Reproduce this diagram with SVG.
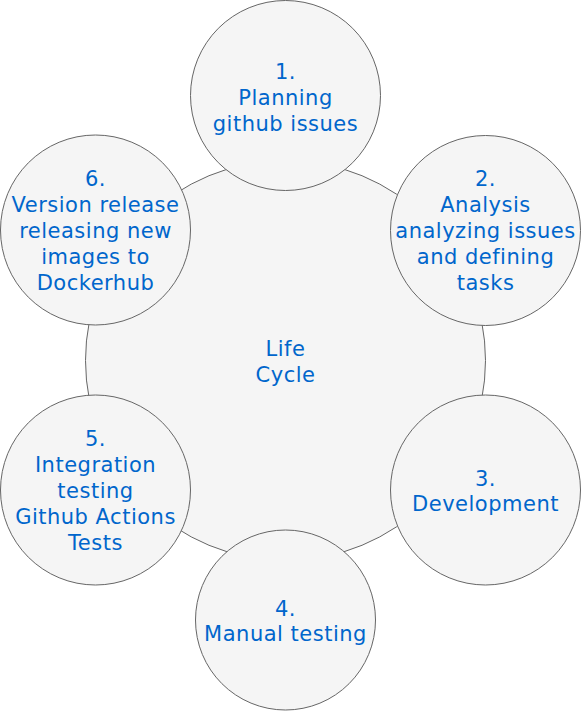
<svg xmlns="http://www.w3.org/2000/svg" width="581" height="711" viewBox="0 0 581 711">
<style>
.c{fill:#f5f5f5;stroke:#666666;stroke-width:1}
.t{font-family:"DejaVu Sans","Verdana",sans-serif;font-size:21px;letter-spacing:0.5px;fill:#0066cc;text-anchor:middle}
</style>
<rect width="581" height="711" fill="#ffffff"/>
<g id="lifecycle">
<circle class="c" cx="285.5" cy="360.5" r="200"/>
<text class="t"><tspan x="285.5" y="356">Life</tspan><tspan x="285.5" y="382">Cycle</tspan></text>
</g>
<g id="connectors"></g>
<g id="step1">
<circle class="c" cx="285.5" cy="95.5" r="95"/>
<text class="t"><tspan x="285.5" y="79">1.</tspan><tspan x="285.5" y="105">Planning</tspan><tspan x="285.5" y="131">github issues</tspan></text>
</g>
<g id="step2">
<circle class="c" cx="485.5" cy="230.5" r="95"/>
<text class="t"><tspan x="485.5" y="186">2.</tspan><tspan x="485.5" y="212">Analysis</tspan><tspan x="485.5" y="238">analyzing issues</tspan><tspan x="485.5" y="264">and defining</tspan><tspan x="485.5" y="290">tasks</tspan></text>
</g>
<g id="step3">
<circle class="c" cx="485.5" cy="490" r="95"/>
<text class="t"><tspan x="485.5" y="486">3.</tspan><tspan x="485.5" y="511">Development</tspan></text>
</g>
<g id="step4">
<circle class="c" cx="285.5" cy="620" r="90"/>
<text class="t"><tspan x="285.5" y="616">4.</tspan><tspan x="285.5" y="641">Manual testing</tspan></text>
</g>
<g id="step5">
<circle class="c" cx="95.5" cy="490" r="95"/>
<text class="t"><tspan x="95.5" y="446">5.</tspan><tspan x="95.5" y="472">Integration</tspan><tspan x="95.5" y="498">testing</tspan><tspan x="95.5" y="524">Github Actions</tspan><tspan x="95.5" y="550">Tests</tspan></text>
</g>
<g id="step6">
<circle class="c" cx="95.5" cy="230" r="95"/>
<text class="t"><tspan x="95.5" y="186">6.</tspan><tspan x="95.5" y="212">Version release</tspan><tspan x="95.5" y="238">releasing new</tspan><tspan x="95.5" y="264">images to</tspan><tspan x="95.5" y="290">Dockerhub</tspan></text>
</g>
</svg>
